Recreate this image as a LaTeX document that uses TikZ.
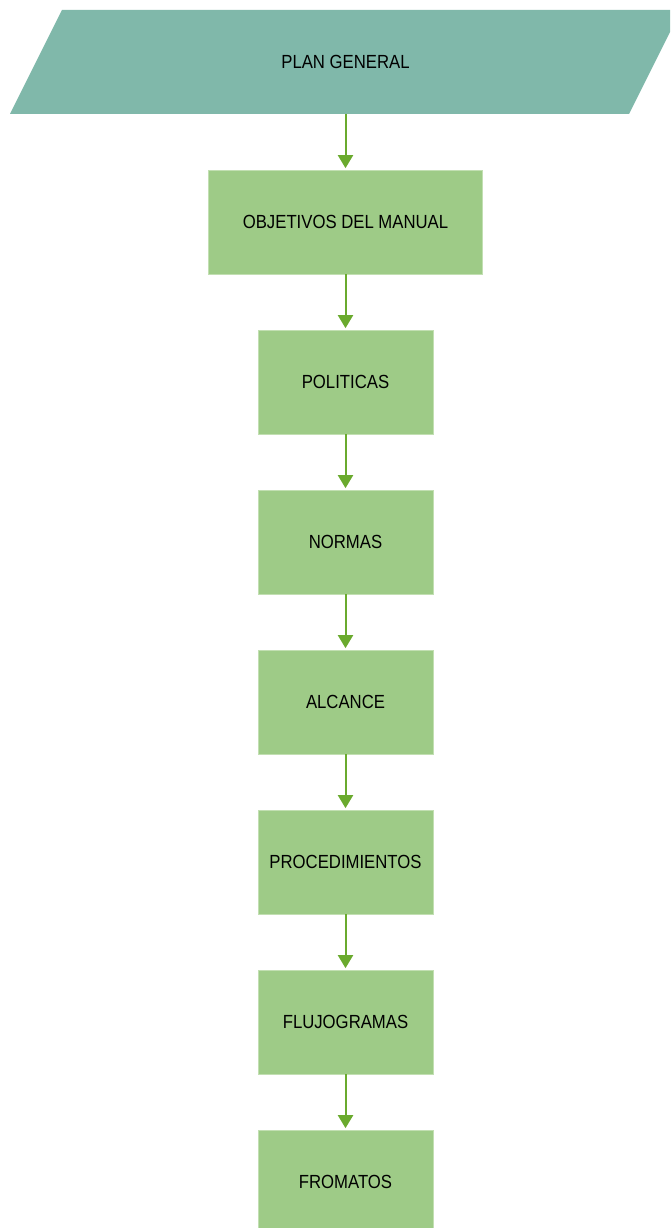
\documentclass[tikz,border=0pt]{standalone}
\usepackage{fontspec}
\setmainfont[FakeStretch=0.88]{Liberation Sans}
\usetikzlibrary{arrows.meta}
\definecolor{planfill}{HTML}{80B8AA}
\definecolor{boxfill}{HTML}{9ECB87}
\definecolor{boxedge}{HTML}{C2DFB2}
\definecolor{linkgreen}{HTML}{6AAA2E}
\tikzset{
  stepbox/.style={rectangle, fill=boxfill, draw=boxedge, line width=0.6pt,
    minimum width=175pt, minimum height=104pt, inner sep=0pt,
    font=\fontsize{19}{22}\selectfont, text=black},
  widebox/.style={stepbox, minimum width=274pt},
  link/.style={draw=linkgreen, line width=2pt,
    -{Triangle[length=13pt,width=15pt]}, shorten >=1.5pt}
}
\begin{document}
\begin{tikzpicture}[x=1pt,y=-1pt]
  \useasboundingbox (0,0) rectangle (670,1228);
  \clip (0,0) rectangle (670,1228);
  % input parallelogram
  \fill[planfill] (62,10) -- (681,10) -- (629,114) -- (10,114) -- cycle;
  \node[minimum height=104pt, minimum width=100pt, inner sep=0pt,
        font=\fontsize{19}{22}\selectfont] (plan) at (345.5,62) {PLAN GENERAL};
  % process steps
  \node[widebox] (obj)  at (345.5,222)  {OBJETIVOS DEL MANUAL};
  \node[stepbox] (pol)  at (345.5,382)  {POLITICAS};
  \node[stepbox] (nor)  at (345.5,542)  {NORMAS};
  \node[stepbox] (alc)  at (345.5,702)  {ALCANCE};
  \node[stepbox] (pro)  at (345.5,862)  {PROCEDIMIENTOS};
  \node[stepbox] (flu)  at (345.5,1022) {FLUJOGRAMAS};
  \node[stepbox] (fro)  at (345.5,1182) {FROMATOS};
  % connectors
  \draw[link] (plan.south) -- (obj.north);
  \draw[link] (obj.south) -- (pol.north);
  \draw[link] (pol.south) -- (nor.north);
  \draw[link] (nor.south) -- (alc.north);
  \draw[link] (alc.south) -- (pro.north);
  \draw[link] (pro.south) -- (flu.north);
  \draw[link] (flu.south) -- (fro.north);
\end{tikzpicture}
\end{document}
